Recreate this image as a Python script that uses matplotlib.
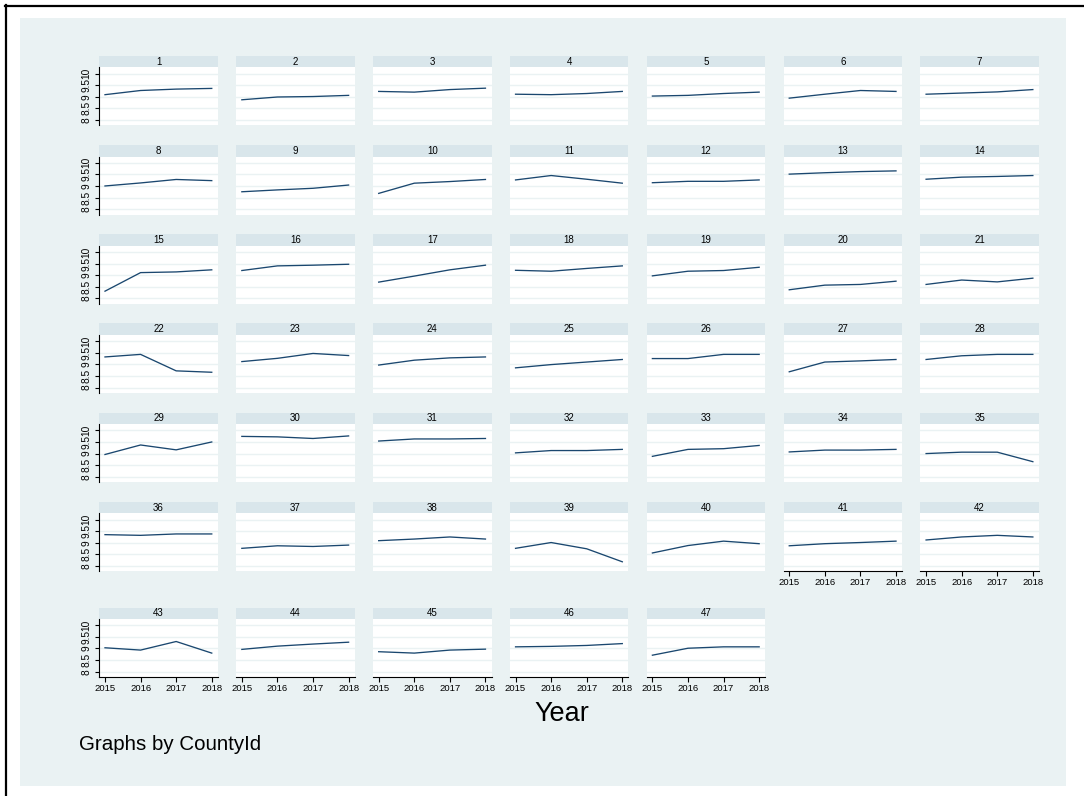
import matplotlib
matplotlib.use("Agg")
import matplotlib.pyplot as plt
from matplotlib.patches import Rectangle
from matplotlib.lines import Line2D

#------------------------------------------------------------------------------
# Data: one value per county for each year (counties 1..47)
years = [2015, 2016, 2017, 2018]
county_ids = list(range(1, 48))

val_2015 = [9.09, 8.87, 9.23, 9.11, 9.03, 8.94, 9.11,
            9.00, 8.75, 8.68, 9.26, 9.14, 9.51, 9.29,
            8.31, 9.20, 8.70, 9.21, 8.97, 8.37, 8.60,
            9.32, 9.12, 8.97, 8.85, 9.25, 8.68, 9.21,
            8.96, 9.74, 9.54, 9.03, 8.88, 9.07, 9.00,
            9.35, 8.76, 9.09, 8.76, 8.56, 8.87, 9.12,
            9.03, 8.96, 8.86, 9.07, 8.71]
val_2016 = [9.27, 8.99, 9.20, 9.09, 9.06, 9.11, 9.16,
            9.13, 8.83, 9.12, 9.45, 9.20, 9.57, 9.38,
            9.11, 9.40, 8.96, 9.17, 9.17, 8.57, 8.79,
            9.43, 9.26, 9.18, 8.99, 9.25, 9.10, 9.37,
            9.37, 9.72, 9.63, 9.13, 9.18, 9.15, 9.06,
            9.32, 8.87, 9.16, 9.01, 8.88, 8.96, 9.25,
            8.93, 9.10, 8.80, 9.09, 9.01]
val_2017 = [9.33, 9.01, 9.31, 9.14, 9.14, 9.27, 9.21,
            9.28, 8.90, 9.19, 9.29, 9.20, 9.62, 9.41,
            9.14, 9.43, 9.23, 9.29, 9.20, 8.60, 8.71,
            8.72, 9.47, 9.28, 9.10, 9.43, 9.15, 9.43,
            9.16, 9.65, 9.63, 9.13, 9.21, 9.15, 9.06,
            9.38, 8.84, 9.25, 8.74, 9.07, 9.01, 9.32,
            9.30, 9.19, 8.93, 9.13, 9.07]
val_2018 = [9.36, 9.06, 9.37, 9.23, 9.20, 9.23, 9.31,
            9.23, 9.04, 9.28, 9.12, 9.26, 9.65, 9.45,
            9.23, 9.47, 9.43, 9.40, 9.34, 8.74, 8.87,
            8.66, 9.38, 9.32, 9.21, 9.43, 9.21, 9.43,
            9.50, 9.76, 9.65, 9.18, 9.35, 9.18, 8.65,
            9.38, 8.90, 9.16, 8.18, 8.96, 9.07, 9.25,
            8.80, 9.27, 8.97, 9.21, 9.07]

y_ticks = [8, 8.5, 9, 9.5, 10]
y_tick_labels = ["8", "8.5", "9", "9.5", "10"]

#------------------------------------------------------------------------------
# Stata s2color look
W, H = 1084, 796
BG = "#EAF2F3"
STRIP = "#D9E6EB"
LINE = "#1A476F"
NCOLS = 7
plt.rcParams['font.family'] = ['Liberation Sans', 'DejaVu Sans']

fig = plt.figure(figsize=(W / 100, H / 100), dpi=100)
fig.patch.set_facecolor("white")


def px_axes(left, top, w, h):
    """axes placed by pixel box measured from the top-left corner"""
    return fig.add_axes([left / W, 1 - (top + h) / H, w / W, h / H])


# graph region
fig.add_artist(Rectangle((20 / W, 1 - 786 / H), 1046 / W, 768 / H,
                         transform=fig.transFigure, facecolor=BG,
                         edgecolor="none", zorder=0))
fig.add_artist(Line2D([5.5 / W, 5.5 / W], [0, 1 - 5 / H], color="black",
                      lw=1.6, transform=fig.transFigure))
fig.add_artist(Line2D([5 / W, 1], [1 - 5.5 / H, 1 - 5.5 / H], color="black",
                      lw=1.6, transform=fig.transFigure))

col_left = 99.3
col_step = 136.85
panel_w = 118.5
panel_h = 58
strip_h = 11.5
row_tops = [67.3 + r * 89.2 for r in range(6)] + [619]
n = len(county_ids)

for i, cid in enumerate(county_ids):
    r, c = divmod(i, NCOLS)
    left = col_left + c * col_step
    top = row_tops[r]
    vals = [val_2015[i], val_2016[i], val_2017[i], val_2018[i]]

    # header strip with the county id
    sax = px_axes(left, top - strip_h, panel_w, strip_h)
    sax.set_facecolor(STRIP)
    sax.set_xticks([])
    sax.set_yticks([])
    for s in sax.spines.values():
        s.set_visible(False)
    sax.text(0.5, 0.5, str(cid), ha="center", va="center", fontsize=7,
             transform=sax.transAxes)

    ax = px_axes(left, top, panel_w, panel_h)
    ax.set_facecolor("white")
    ax.plot(years, vals, color=LINE, lw=0.95)
    ax.set_xlim(2014.84, 2018.17)
    ax.set_ylim(7.77, 10.27)
    for yv in y_ticks:
        ax.axhline(yv, color=BG, lw=1.0, zorder=0)
    for s in ax.spines.values():
        s.set_visible(False)

    # y axis only on the first column
    ax.set_yticks(y_ticks)
    if c == 0:
        ax.spines["left"].set_visible(True)
        ax.spines["left"].set_linewidth(0.8)
        ax.set_yticklabels(y_tick_labels, rotation=90, va="center",
                           fontsize=7.3)
        ax.tick_params(axis="y", length=3, width=0.8, pad=2.5)
    else:
        ax.tick_params(axis="y", length=0, labelleft=False)

    # x axis on panels with nothing below them
    ax.set_xticks(years)
    if i + NCOLS >= n:
        ax.spines["bottom"].set_visible(True)
        ax.spines["bottom"].set_linewidth(0.8)
        ax.set_xticklabels([str(y) for y in years], fontsize=6.8)
        ax.tick_params(axis="x", length=3.5, width=0.8, pad=1.5)
    else:
        ax.tick_params(axis="x", length=0, labelbottom=False)

fig.text(562 / W, 1 - 714 / H, "Year", ha="center", va="center",
         fontsize=19.5)
fig.text(79 / W, 1 - 745 / H, "Graphs by CountyId", ha="left", va="center",
         fontsize=14.8)

fig.savefig("out.png", dpi=100, facecolor=fig.get_facecolor())
